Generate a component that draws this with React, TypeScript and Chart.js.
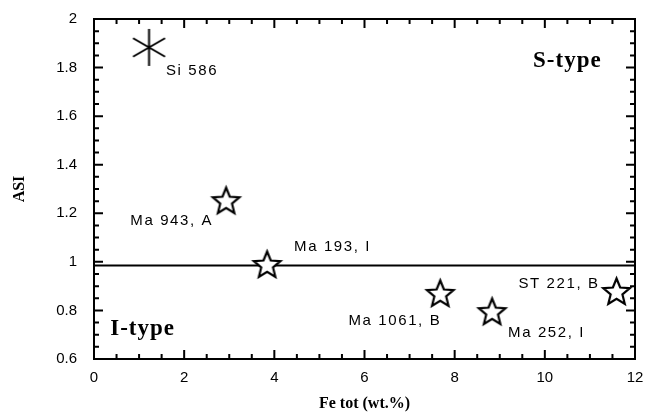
import { useEffect, useRef } from "react";
import { Chart, registerables } from "chart.js";

Chart.register(...registerables);

// ---- data ----
const sampleNames = ["Si 586", "Ma 943, A", "Ma 193, I", "Ma 1061, B", "Ma 252, I", "ST 221, B"];
const feTot = [1.22, 2.93, 3.84, 7.68, 8.83, 11.59];
const asi = [1.883, 1.248, 0.985, 0.866, 0.791, 0.874];
const markerKinds = ["asterisk", "star", "star", "star", "star", "star"];
const boundaryX = [0, 12];
const boundaryY = [0.985, 0.985];
const xTickValues = [0, 2, 4, 6, 8, 10, 12];
const yTickValues = [0.6, 0.8, 1, 1.2, 1.4, 1.6, 1.8, 2];
const regionNames = ["S-type", "I-type"];
const regionX = [10.5, 0.36];
const regionY = [1.804, 0.699];

// ---- styling / layout (not data) ----
const labelLayout = [
  { dx: 17, dy: 23.5, align: "left" },
  { dx: -13, dy: 19.5, align: "right" },
  { dx: 27, dy: -18.5, align: "left" },
  { dx: 1, dy: 26, align: "right" },
  { dx: 16, dy: 20, align: "left" },
  { dx: -17, dy: -8.5, align: "right" },
];
const regionAlign = ["center", "left"];

function makeStar(R: number, r: number, lw: number) {
  const size = Math.ceil(2 * R + lw * 2 + 4);
  const c = document.createElement("canvas");
  c.width = size;
  c.height = size;
  const ctx = c.getContext("2d")!;
  const cx = size / 2;
  const cy = size / 2;
  ctx.beginPath();
  for (let k = 0; k < 10; k++) {
    const rad = k % 2 === 0 ? R : r;
    const a = -Math.PI / 2 + (k * Math.PI) / 5;
    ctx.lineTo(cx + rad * Math.cos(a), cy + rad * Math.sin(a));
  }
  ctx.closePath();
  ctx.fillStyle = "#fff";
  ctx.fill();
  ctx.lineWidth = lw;
  ctx.lineJoin = "miter";
  ctx.strokeStyle = "#000";
  ctx.stroke();
  return c;
}

function makeAsterisk(R: number, lw: number) {
  const size = Math.ceil(2 * R + lw * 2 + 2);
  const c = document.createElement("canvas");
  c.width = size;
  c.height = size;
  const ctx = c.getContext("2d")!;
  const cx = size / 2;
  const cy = size / 2;
  ctx.strokeStyle = "#000";
  ctx.lineWidth = lw;
  ctx.beginPath();
  for (let k = 0; k < 3; k++) {
    const a = Math.PI / 2 + (k * Math.PI) / 3;
    ctx.moveTo(cx + R * Math.cos(a), cy + R * Math.sin(a));
    ctx.lineTo(cx - R * Math.cos(a), cy - R * Math.sin(a));
  }
  ctx.stroke();
  return c;
}

const decorPlugin = {
  id: "decor",
  afterDatasetsDraw(chart: any) {
    const { ctx, chartArea: a, scales } = chart;
    const xs = scales.x;
    const ys = scales.y;
    ctx.save();
    ctx.strokeStyle = "#000";
    ctx.lineWidth = 2;
    ctx.strokeRect(a.left, a.top, a.right - a.left, a.bottom - a.top);
    // inward tick marks
    ctx.beginPath();
    for (let i = 0; i <= 24; i++) {
      const v = i * 0.5;
      const px = xs.getPixelForValue(v);
      const len = i % 4 === 0 ? 9 : 5;
      ctx.moveTo(px, a.bottom);
      ctx.lineTo(px, a.bottom - len);
      ctx.moveTo(px, a.top);
      ctx.lineTo(px, a.top + len);
    }
    for (let i = 0; i <= 28; i++) {
      const v = 0.6 + i * 0.05;
      const py = ys.getPixelForValue(v);
      const len = i % 4 === 0 ? 9 : 5;
      ctx.moveTo(a.left, py);
      ctx.lineTo(a.left + len, py);
      ctx.moveTo(a.right, py);
      ctx.lineTo(a.right - len, py);
    }
    ctx.stroke();

    // sample labels
    ctx.fillStyle = "#000";
    ctx.font = "15px 'Liberation Sans', Arial, sans-serif";
    (ctx as any).letterSpacing = "1.6px";
    ctx.textBaseline = "middle";
    sampleNames.forEach((name, i) => {
      const px = xs.getPixelForValue(feTot[i]);
      const py = ys.getPixelForValue(asi[i]);
      const l = labelLayout[i];
      ctx.textAlign = l.align;
      ctx.fillText(name, px + l.dx, py + l.dy);
    });

    // region labels
    ctx.font = "bold 23px 'Liberation Serif', 'Times New Roman', serif";
    (ctx as any).letterSpacing = "1px";
    ctx.textBaseline = "alphabetic";
    regionNames.forEach((name, i) => {
      ctx.textAlign = regionAlign[i];
      ctx.fillText(name, xs.getPixelForValue(regionX[i]), ys.getPixelForValue(regionY[i]));
    });
    (ctx as any).letterSpacing = "0px";
    ctx.restore();
  },
};

export default function App() {
  const ref = useRef<HTMLCanvasElement | null>(null);
  useEffect(() => {
    document.body.style.margin = "0";
    const star = makeStar(14, 6.2, 2.2);
    const ast = makeAsterisk(18.5, 2);
    const styles = markerKinds.map((k) => (k === "star" ? star : ast));
    const chart = new Chart(ref.current!, {
      type: "scatter",
      data: {
        datasets: [
          {
            label: "samples",
            data: feTot.map((x, i) => ({ x, y: asi[i] })),
            pointStyle: styles as any,
            pointRadius: 14,
            order: 0,
          },
          {
            label: "boundary",
            data: boundaryX.map((x, i) => ({ x, y: boundaryY[i] })),
            showLine: true,
            borderColor: "#000",
            borderWidth: 2,
            pointRadius: 0,
            order: 1,
          },
        ],
      },
      options: {
        responsive: false,
        animation: false,
        events: [],
        layout: { autoPadding: false, padding: { top: 19, right: 11, left: 0, bottom: 0 } },
        plugins: { legend: { display: false }, tooltip: { enabled: false } },
        scales: {
          x: {
            type: "linear",
            min: 0,
            max: 12,
            afterBuildTicks: (s: any) => {
              s.ticks = xTickValues.map((v) => ({ value: v }));
            },
            afterFit: (s: any) => {
              s.height = 57;
              s.paddingLeft = 0;
              s.paddingRight = 0;
            },
            grid: { display: false, drawTicks: false },
            border: { display: false },
            ticks: {
              color: "#000",
              padding: 10,
              maxRotation: 0,
              autoSkip: false,
              font: { family: "'Liberation Sans', Arial, sans-serif", size: 15 },
              callback: (v: any) => String(v),
            },
            title: {
              display: true,
              text: "Fe tot (wt.%)",
              color: "#000",
              font: { family: "'Liberation Serif', 'Times New Roman', serif", size: 16, weight: "bold" },
              padding: { top: 0, bottom: 3 },
            },
          },
          y: {
            type: "linear",
            min: 0.6,
            max: 2,
            afterBuildTicks: (s: any) => {
              s.ticks = yTickValues.map((v) => ({ value: v }));
            },
            afterFit: (s: any) => {
              s.width = 94;
              s.paddingTop = 0;
              s.paddingBottom = 0;
            },
            grid: { display: false, drawTicks: false },
            border: { display: false },
            ticks: {
              color: "#000",
              padding: 17,
              autoSkip: false,
              font: { family: "'Liberation Sans', Arial, sans-serif", size: 15 },
              callback: (v: any) => String(Number(Number(v).toFixed(2))),
            },
            title: {
              display: true,
              text: "ASI",
              color: "#000",
              font: { family: "'Liberation Serif', 'Times New Roman', serif", size: 16, weight: "bold" },
              padding: { top: 10, bottom: 0 },
            },
          },
        },
      },
      plugins: [decorPlugin],
    });
    return () => chart.destroy();
  }, []);
  return <canvas ref={ref} width={646} height={416} style={{ display: "block" }} />;
}
